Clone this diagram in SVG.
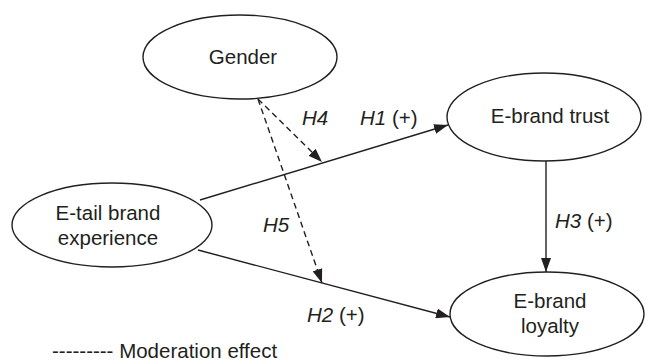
<svg xmlns="http://www.w3.org/2000/svg" width="645" height="364" viewBox="0 0 645 364">
<style>
.node{fill:#fff;stroke:#231f20;stroke-width:1.4}
text{font-family:"Liberation Sans",Arial,sans-serif;font-size:20.5px;fill:#231f20}
.c{text-anchor:middle}
.i{font-style:italic}
.e{stroke:#231f20;stroke-width:1.4;fill:none}
.d{stroke-dasharray:6 4}
</style>
<defs>
<marker id="ah" viewBox="0 0 14 10" refX="14" refY="5" markerWidth="14" markerHeight="10" markerUnits="userSpaceOnUse" orient="auto">
<path d="M0,0 L14,5 L0,10 z" fill="#231f20"/>
</marker>
</defs>
<g id="connectors">
<line class="e" x1="200" y1="200" x2="448" y2="125" marker-end="url(#ah)"/>
<line class="e" x1="198" y1="250" x2="450" y2="317" marker-end="url(#ah)"/>
<line class="e" x1="546" y1="160" x2="546" y2="272" marker-end="url(#ah)"/>
<line class="e d" x1="258" y1="99" x2="322" y2="162" marker-end="url(#ah)"/>
<line class="e d" x1="258" y1="99" x2="322" y2="283" marker-end="url(#ah)"/>
<text class="i" x="302" y="125">H4</text>
<text x="360" y="125"><tspan class="i">H1</tspan> (+)</text>
<text class="i" x="263" y="232">H5</text>
<text x="307" y="322"><tspan class="i">H2</tspan> (+)</text>
<text x="555" y="228"><tspan class="i">H3</tspan> (+)</text>
</g>
<g id="gender">
<ellipse class="node" cx="240" cy="57" rx="97" ry="42"/>
<text class="c" x="243" y="64">Gender</text>
</g>
<g id="trust">
<ellipse class="node" cx="544" cy="117" rx="97" ry="44"/>
<text class="c" x="550" y="123">E-brand trust</text>
</g>
<g id="experience">
<ellipse class="node" cx="112" cy="225" rx="100" ry="42"/>
<text class="c" x="108" y="220">E-tail brand</text>
<text class="c" x="108" y="245">experience</text>
</g>
<g id="loyalty">
<ellipse class="node" cx="547" cy="314" rx="97" ry="42"/>
<text class="c" x="550" y="308">E-brand</text>
<text class="c" x="550" y="333">loyalty</text>
</g>
<g id="legend">
<text x="52" y="358">--------- Moderation effect</text>
</g>
</svg>
